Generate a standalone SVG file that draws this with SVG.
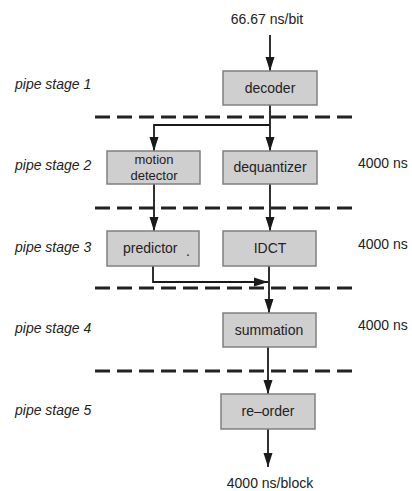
<svg xmlns="http://www.w3.org/2000/svg" width="412" height="491" viewBox="0 0 412 491">
<defs>
<marker id="ah" markerUnits="userSpaceOnUse" markerWidth="15" markerHeight="10" refX="14" refY="5" orient="auto">
<path d="M0,0.5 L14,5 L0,9.5 Z" fill="#1a1a1a"/>
</marker>
</defs>
<style>
.box{fill:#cfcfcf;stroke:#808080;stroke-width:1.5}
.t{font-family:"Liberation Sans",Arial,sans-serif;font-size:14px;fill:#222}
.c{text-anchor:middle}
.i{font-style:italic}
.s{font-size:13px}
.dash{stroke:#222;stroke-width:3;stroke-dasharray:15 7;fill:none}
.ln{stroke:#1a1a1a;stroke-width:1.8;fill:none}
</style>
<rect width="412" height="491" fill="#fff"/>
<g id="stages">
<text class="t i" x="15" y="89">pipe stage 1</text>
<text class="t i" x="15" y="170">pipe stage 2</text>
<text class="t i" x="15" y="252">pipe stage 3</text>
<text class="t i" x="15" y="333">pipe stage 4</text>
<text class="t i" x="15" y="415">pipe stage 5</text>
</g>
<g id="times">
<text class="t" x="358" y="168">4000 ns</text>
<text class="t" x="358" y="249">4000 ns</text>
<text class="t" x="358" y="330">4000 ns</text>
</g>
<g id="dividers">
<line class="dash" x1="95" y1="117" x2="352" y2="117"/>
<line class="dash" x1="95" y1="208" x2="352" y2="208"/>
<line class="dash" x1="95" y1="288" x2="352" y2="288"/>
<line class="dash" x1="95" y1="371" x2="352" y2="371"/>
</g>
<g id="connectors">
<line class="ln" x1="270" y1="35" x2="270" y2="71" marker-end="url(#ah)"/>
<line class="ln" x1="270" y1="105" x2="270" y2="151" marker-end="url(#ah)"/>
<polyline class="ln" points="270,125 154,125 154,151" marker-end="url(#ah)"/>
<line class="ln" x1="154" y1="184" x2="154" y2="231" marker-end="url(#ah)"/>
<line class="ln" x1="270" y1="184" x2="270" y2="231" marker-end="url(#ah)"/>
<line class="ln" x1="269" y1="266" x2="269" y2="313" marker-end="url(#ah)"/>
<polyline class="ln" points="153,266 153,282 268,282" marker-end="url(#ah)"/>
<line class="ln" x1="268" y1="347" x2="268" y2="394" marker-end="url(#ah)"/>
<line class="ln" x1="268" y1="429" x2="268" y2="467" marker-end="url(#ah)"/>
</g>
<g id="input"><text class="t c" x="267" y="24">66.67 ns/bit</text></g>
<g id="decoder"><rect class="box" x="223" y="71" width="94" height="34"/><text class="t c" x="270" y="93">decoder</text></g>
<g id="motion-detector"><rect class="box" x="107" y="151" width="93" height="33"/><text class="t c s" x="154" y="164">motion</text><text class="t c s" x="154" y="180">detector</text></g>
<g id="dequantizer"><rect class="box" x="223" y="151" width="94" height="33"/><text class="t c" x="270" y="172">dequantizer</text></g>
<g id="predictor"><rect class="box" x="107" y="231" width="92" height="35"/><text class="t" x="123" y="253">predictor</text><text class="t" x="186" y="256">.</text></g>
<g id="idct"><rect class="box" x="223" y="231" width="93" height="35"/><text class="t c" x="270" y="253">IDCT</text></g>
<g id="summation"><rect class="box" x="223" y="313" width="93" height="34"/><text class="t c" x="269" y="335">summation</text></g>
<g id="re-order"><rect class="box" x="221" y="394" width="94" height="35"/><text class="t c" x="268" y="416">re–order</text></g>
<g id="output"><text class="t c" x="270" y="488">4000 ns/block</text></g>
</svg>
